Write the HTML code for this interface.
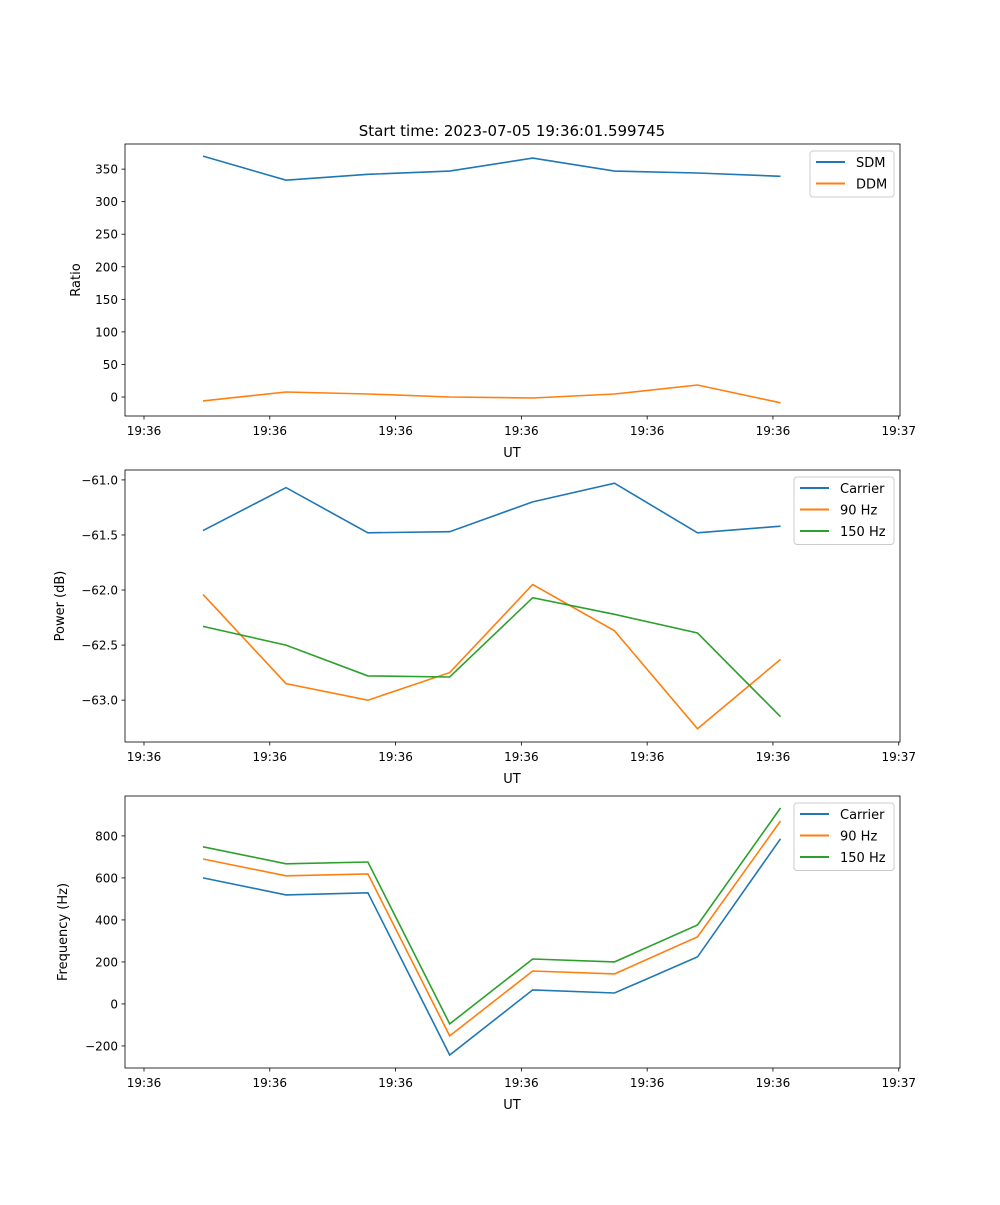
<!DOCTYPE html>
<html><head><meta charset="utf-8"><style>
body{margin:0;background:#fff}
svg text{font-family:"DejaVu Sans","Liberation Sans",sans-serif;fill:#000}
</style></head><body>
<svg id="chart" width="1000" height="1200" xmlns="http://www.w3.org/2000/svg">
<rect width="1000" height="1200" fill="#fff"/>
<text x="512" y="136" font-size="15" text-anchor="middle">Start time: 2023-07-05 19:36:01.599745</text>
</svg>
<script>
// time offsets (seconds) of samples
const times = [4.69, 11.29, 17.8, 24.3, 30.9, 37.4, 44.0, 50.6];
const xTicks = [0, 10, 20, 30, 40, 50, 60];
const xTickLabels = ["19:36","19:36","19:36","19:36","19:36","19:36","19:37"];
const seriesNames1 = ["SDM","DDM"];
const sdm = [370, 333, 342, 347, 367, 347, 344, 339];
const ddm = [-6, 7.7, 4.6, 0, -1.5, 4.6, 18.4, -9];
const yTicks1 = [0,50,100,150,200,250,300,350];
const yTickLabels1 = ["0","50","100","150","200","250","300","350"];
const seriesNames2 = ["Carrier","90 Hz","150 Hz"];
const pCarrier = [-61.46, -61.07, -61.48, -61.47, -61.2, -61.03, -61.48, -61.42];
const p90 = [-62.04, -62.85, -63.0, -62.75, -61.95, -62.37, -63.26, -62.63];
const p150 = [-62.33, -62.5, -62.78, -62.79, -62.07, -62.22, -62.39, -63.15];
const yTicks2 = [-63.0, -62.5, -62.0, -61.5, -61.0];
const yTickLabels2 = ["\u221263.0","\u221262.5","\u221262.0","\u221261.5","\u221261.0"];
const fCarrier = [600, 519, 529, -243, 67, 52, 224, 786];
const f90 = [690, 610, 619, -152, 157, 143, 319, 871];
const f150 = [748, 667, 676, -95, 214, 200, 376, 933];
const yTicks3 = [-200, 0, 200, 400, 600, 800];
const yTickLabels3 = ["\u2212200","0","200","400","600","800"];

const colors = ["#1f77b4","#ff7f0e","#2ca02c"];
const svg = document.getElementById('chart');
const NS = "http://www.w3.org/2000/svg";
function mk(tag, attrs, parent){const e=document.createElementNS(NS,tag);for(const k in attrs)e.setAttribute(k,attrs[k]);(parent||svg).appendChild(e);return e;}
const L=125,R=900,xMin=-1.51,xMax=60.1;
const xs=t=>L+(t-xMin)/(xMax-xMin)*(R-L);

function panel(id, top, bottom, yMin, yMax, yTicks, yLabels, series, names, ylabel, legend){
  const g=mk('g',{});
  
  
  const ys=v=>bottom-(v-yMin)/(yMax-yMin)*(bottom-top);
  series.forEach((s,i)=>{
    const p=mk('polyline',{points:s.map((v,j)=>xs(times[j]).toFixed(1)+','+ys(v).toFixed(1)).join(' '),fill:'none',stroke:colors[i],'stroke-width':1.6},g);
    
    
  });
  const fr=mk('rect',{x:L,y:top,width:R-L,height:bottom-top,fill:'none',stroke:'#000','stroke-width':0.8},g);
  
  
  xTicks.forEach((t,i)=>{
    const x=xs(t);
    mk('line',{x1:x,x2:x,y1:bottom,y2:bottom+3.5,stroke:'#000','stroke-width':0.8},g);
    const tx=mk('text',{x:x,y:bottom+19,'font-size':12,'text-anchor':'middle'},g);
    tx.textContent=xTickLabels[i];
    
    
  });
  yTicks.forEach((v,i)=>{
    const y=ys(v);
    mk('line',{x1:L-3.5,x2:L,y1:y,y2:y,stroke:'#000','stroke-width':0.8},g);
    const tx=mk('text',{x:L-7,y:y+4.5,'font-size':12,'text-anchor':'end'},g);
    tx.textContent=yLabels[i];
    
    
  });
  const xl=mk('text',{x:512,y:bottom+41,'font-size':13,'text-anchor':'middle'},g);
  xl.textContent='UT';
  
  
  const cy=(top+bottom)/2;
  const yl=mk('text',{x:0,y:0,'font-size':13,'text-anchor':'middle',transform:`translate(${legend.ylx},${cy}) rotate(-90)`},g);
  yl.textContent=ylabel;
  
  
  const lg=mk('g',{},g);
  
  
  mk('rect',{x:legend.x,y:top+7,width:R-6-legend.x,height:names.length*21.5+3,rx:3,fill:'#fff',stroke:'#ccc','stroke-width':1},lg);
  names.forEach((n,i)=>{
    const y=top+18+i*21.5;
    mk('line',{x1:legend.x+6,x2:legend.x+35,y1:y,y2:y,stroke:colors[i],'stroke-width':2},lg);
    const t=mk('text',{x:legend.x+46,y:y+5,'font-size':13},lg);
    t.textContent=n;
    
    
  });
}
panel('ratio-panel',144,416,-29.2,388.6,yTicks1,yTickLabels1,[sdm,ddm],seriesNames1,'Ratio',{x:810,ylx:80});
panel('power-panel',470,742,-63.38,-60.91,yTicks2,yTickLabels2,[pCarrier,p90,p150],seriesNames2,'Power (dB)',{x:794,ylx:64});
panel('frequency-panel',796,1068,-305,990,yTicks3,yTickLabels3,[fCarrier,f90,f150],seriesNames2,'Frequency (Hz)',{x:794,ylx:67});
</script>
</body></html>
